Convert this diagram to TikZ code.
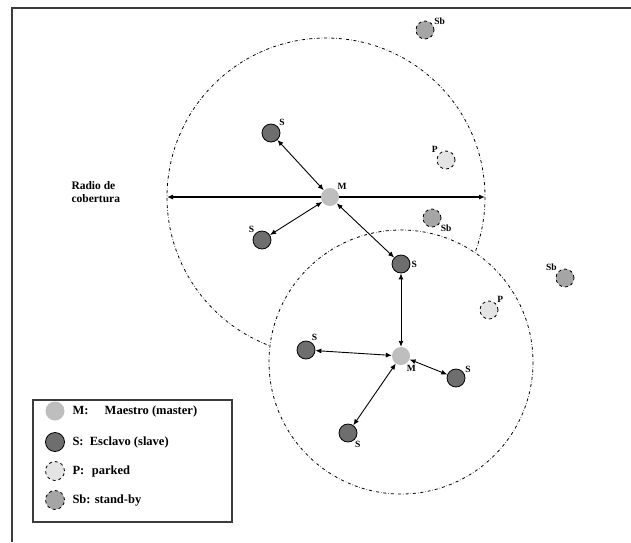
\documentclass[tikz,border=0pt]{standalone}
\usepackage{fontspec}
\setmainfont{Liberation Serif}
\usetikzlibrary{arrows.meta,positioning}
\definecolor{C_master}{RGB}{190,190,190}
\definecolor{C_slave}{RGB}{110,110,110}
\definecolor{C_parked}{RGB}{228,228,228}
\definecolor{C_standby}{RGB}{165,165,165}
\definecolor{C_frame}{RGB}{60,60,60}

\begin{document}
\begin{tikzpicture}[x=1pt,y=-1pt,every node/.style={font=\bfseries\fontsize{11.5}{13}\selectfont}]
  \tikzset{
    master/.style={circle, fill=C_master, minimum size=18pt, inner sep=0pt},
    slave/.style={circle, draw=black, fill=C_slave, line width=0.8pt, minimum size=18pt, inner sep=0pt},
    parked/.style={circle, draw=black, dashed, fill=C_parked, line width=0.8pt, minimum size=18pt, inner sep=0pt},
    standby/.style={circle, draw=black, dashed, fill=C_standby, line width=0.8pt, minimum size=18pt, inner sep=0pt},
    link/.style={{Latex[length=6pt,width=5pt]}-{Latex[length=6pt,width=5pt]}, line width=0.9pt},
    cover/.style={dash dot, line width=0.8pt},
    lab/.style={font=\bfseries\fontsize{9.5}{10}\selectfont, inner sep=1pt},
    legtext/.style={right, font=\bfseries\fontsize{12.5}{14}\selectfont}
  }
  \useasboundingbox (0,0) rectangle (631,542);

  % frame
  \draw[C_frame, line width=1.6pt] (12,542) -- (12,8) -- (631,8);

  % coverage areas
  \draw[cover] (326,197) circle[radius=159];
  \draw[cover, fill=white] (401,362) circle[radius=132];

  \coordinate (rl) at (167,197);
  \coordinate (rr) at (485,197);
  \draw[link, line width=1.1pt] (rl) -- (rr);
  \node[anchor=west, align=left] (radio) at (68,192) {Radio de\\cobertura};

  % piconet 1
  \node[master, label={[lab]45:M}] (m1) at (330,197) {};
  \node[slave, label={[lab]40:S}] (s1) at (271,133) {};
  \node[slave, label={[lab]135:S}] (s2) at (262,240) {};
  \node[slave, label={[lab]0:S}] (s3) at (401,264) {};
  \node[parked, label={[lab]140:P}] (p1) at (446,160) {};
  \node[standby, label={[lab]-35:Sb}] (sb1) at (432,218) {};
  \node[standby, label={[lab]30:Sb}] (sb2) at (425,30) {};

  % piconet 2
  \node[master, label={[lab]-60:M}] (m2) at (401,356) {};
  \node[slave, label={[lab]60:S}] (s4) at (306,350) {};
  \node[slave, label={[lab]30:S}] (s5) at (456,378) {};
  \node[slave, label={[lab]-50:S}] (s6) at (348,433) {};
  \node[parked, label={[lab]40:P}] (p2) at (489,310) {};
  \node[standby, label={[lab]140:Sb}] (sb3) at (565,278) {};

  \draw[link] (m1) -- (s1);
  \draw[link] (m1) -- (s2);
  \draw[link] (m1) -- (s3);
  \draw[link] (s3) -- (m2);
  \draw[link] (m2) -- (s4);
  \draw[link] (m2) -- (s5);
  \draw[link] (m2) -- (s6);

  % legend
  \draw[C_frame, line width=1.2pt] (33,400) rectangle (232,522);
  \node[master, minimum size=19pt] (lm) at (55,411) {};
  \node[slave, minimum size=19pt] (ls) at (55,442) {};
  \node[parked, minimum size=19pt] (lp) at (55,471) {};
  \node[standby, minimum size=19pt] (lsb) at (55,500) {};
  \node[legtext] (tm) at (69,411) {M:\hspace{1.3em}Maestro (master)};
  \node[legtext] (ts) at (69,442) {S:\hspace{0.5em}Esclavo (slave)};
  \node[legtext] (tp) at (69,471) {P:\hspace{0.6em}parked};
  \node[legtext] (tsb) at (69,500) {Sb: stand-by};
\end{tikzpicture}
\end{document}
